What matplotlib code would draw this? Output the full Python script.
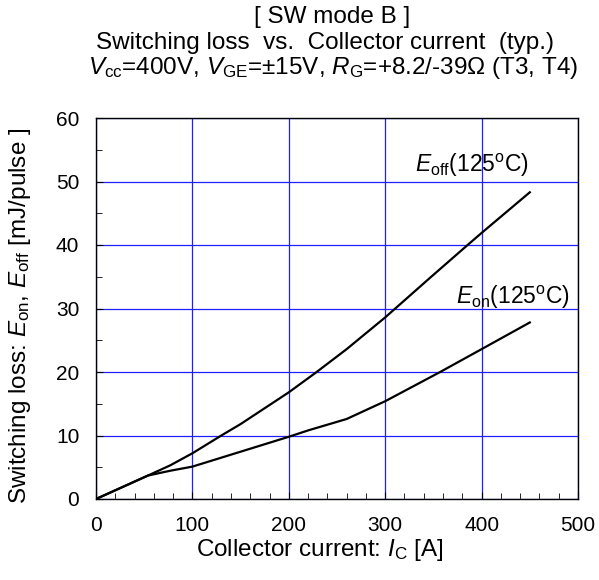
import matplotlib
matplotlib.use("Agg")
import matplotlib.pyplot as plt
from matplotlib.ticker import MultipleLocator

# ----------------------------------------------------------
# Data
# ----------------------------------------------------------

ic_off = [0, 27, 54, 77, 100, 130, 150, 200, 228, 260, 300, 347, 387, 400, 450]
eoff = [0, 1.85, 3.7, 5.3, 7.2, 10.0, 11.8, 16.8, 19.9, 23.6, 28.6, 34.9, 40.2, 41.9, 48.3]

ic_on = [0, 27, 54, 77, 100, 150, 200, 220, 260, 300, 357, 400, 450]
eon = [0, 1.85, 3.7, 4.45, 5.1, 7.45, 9.8, 10.8, 12.6, 15.4, 20.0, 23.6, 27.8]

xticks = [0, 100, 200, 300, 400, 500]
yticks = [0, 10, 20, 30, 40, 50, 60]

# ----------------------------------------------------------
# Style
# ----------------------------------------------------------

plt.rcParams["font.family"] = ["Liberation Sans", "DejaVu Sans"]
plt.rcParams["mathtext.fontset"] = "custom"
plt.rcParams["mathtext.rm"] = "Liberation Sans"
plt.rcParams["mathtext.it"] = "Liberation Sans:italic"
plt.rcParams["mathtext.bf"] = "Liberation Sans:bold"

fs_tick = 15
fs_text = 17.5
fs_curve = 16.5

fig = plt.figure(figsize=(5.99, 5.80), dpi=100)
ax = fig.add_axes([96 / 599, 1 - 499 / 580, 482 / 599, 381 / 580])

ax.plot(ic_off, eoff, color="black", lw=1.6, zorder=3)
ax.plot(ic_on, eon, color="black", lw=1.6, zorder=3)

ax.set_xlim(0, 500)
ax.set_ylim(0, 60)
ax.set_xticks(xticks)
ax.set_yticks(yticks)
ax.xaxis.set_minor_locator(MultipleLocator(20))
ax.yaxis.set_minor_locator(MultipleLocator(5))
ax.tick_params(which="both", direction="in", labelsize=fs_tick, top=False, right=False)
ax.tick_params(which="major", length=5, pad=12)
ax.tick_params(which="minor", length=4)

ax.grid(True, which="major", color="#2020ff", lw=0.9, zorder=1)

for s in ax.spines.values():
    s.set_linewidth(1.0)
    s.set_zorder(4)

# curve labels
ax.text(331, 52.5, r"$E_{\rm off}$(125$^{\rm o}$C)", fontsize=fs_curve, va="center", ha="left")
ax.text(373, 31.7, r"$E_{\rm on}$(125$^{\rm o}$C)", fontsize=fs_curve, va="center", ha="left")

# titles
fig.text(332 / 599, 1 - 17 / 580, "[ SW mode B ]", fontsize=fs_text, ha="center", va="center")
fig.text(325 / 599, 1 - 43 / 580, "Switching loss  vs.  Collector current  (typ.)",
         fontsize=fs_text, ha="center", va="center")
fig.text(333 / 599, 1 - 68 / 580,
         r"$V_{\rm cc}$=400V, $V_{\rm GE}$=$\pm$15V, $R_{\rm G}$=+8.2/-39$\Omega$ (T3, T4)",
         fontsize=fs_text, ha="center", va="center")

ax.set_xlabel(r"Collector current: $I_{\rm C}$ [A]", fontsize=fs_text)
ax.set_ylabel(r"Switching loss: $E_{\rm on}$, $E_{\rm off}$ [mJ/pulse ]", fontsize=fs_text)
ax.xaxis.set_label_coords((320 - 96) / 482, (499 - 537) / 381)
ax.yaxis.set_label_coords((33 - 96) / 482, (499 - 316) / 381)

fig.savefig("out.png", dpi=100)
plt.close(fig)
